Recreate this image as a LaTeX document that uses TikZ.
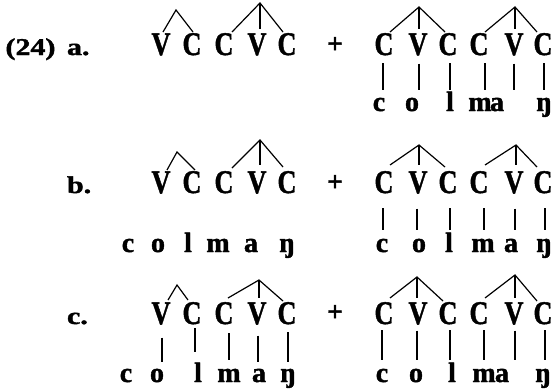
\documentclass[tikz,border=0pt]{standalone}
\usepackage{fontspec}
\setmainfont{Liberation Serif}[BoldFeatures={FakeBold=1.5}]
\usepackage{graphicx}
\usetikzlibrary{calc}
\newcommand\capf[1]{\scalebox{0.8}[1]{\fontsize{33}{33}\selectfont\bfseries #1}}
\newcommand\labf[1]{\scalebox{1.25}[1]{\fontsize{24}{24}\selectfont\bfseries #1}}
\tikzset{
  capnode/.style={inner sep=0pt, outer sep=0pt, anchor=base, text height=23pt},
  lownode/.style={inner sep=0pt, outer sep=0pt, anchor=base, text height=13pt, font=\fontsize{28}{28}\selectfont\bfseries},
  labnode/.style={inner sep=0pt, outer sep=0pt, anchor=base west},
  plusnode/.style={inner sep=0pt, outer sep=0pt, font=\fontsize{28}{28}\selectfont\bfseries},
  treeline/.style={line width=1.2pt, line cap=butt},
}
\begin{document}
\begin{tikzpicture}[x=1pt,y=-1pt]
\useasboundingbox (0,0) rectangle (552,391);
% labels
\node[labnode] (l24) at (5.5,55) {\labf{(24)}};
\node[labnode] (la) at (67,55) {\labf{a.}};
\node[labnode] (lb) at (67,193) {\labf{b.}};
\node[labnode] (lc) at (67,324) {\labf{c.}};
% capitals
\foreach \r/\y in {a/55,b/193,c/324}{
  \foreach \n/\x/\t in {V1/161/V,C1/192/C,C2/224/C,V2/257/V,C3/287/C,
                         C4/384/C,V3/418/V,C5/448/C,C6/479/C,V4/514/V,C7/543/C}{
    \node[capnode] (\r\n) at (\x,\y) {\capf{\t}};
  }
}
% plus signs
\node[plusnode] (pa) at (335,45) {+};
\node[plusnode] (pb) at (335,183) {+};
\node[plusnode] (pc) at (335,313) {+};
% lowercase rows
\foreach \n/\x/\t in {c/379/c,o/412/o,l/450/l,m/480/m,a/497/a,g/544/ŋ}
  \node[lownode] (ar\n) at (\x,111) {\t};
\foreach \n/\x/\t in {c/128/c,o/158/o,l/188/l,m/218/m,a/251/a,g/287/ŋ}
  \node[lownode] (bl\n) at (\x,252) {\t};
\foreach \n/\x/\t in {c/382/c,o/419/o,l/449/l,m/483/m,a/511/a,g/544/ŋ}
  \node[lownode] (br\n) at (\x,252) {\t};
\foreach \n/\x/\t in {c/126/c,o/157/o,l/198/l,m/229/m,a/259/a,g/288/ŋ}
  \node[lownode] (cl\n) at (\x,382) {\t};
\foreach \n/\x/\t in {c/382/c,o/416/o,l/452/l,m/484/m,a/502/a,g/543/ŋ}
  \node[lownode] (cr\n) at (\x,382) {\t};
% apexes
\coordinate (aA1) at (176,10);  \coordinate (aA2) at (260,3);
\coordinate (aA3) at (419,7);   \coordinate (aA4) at (515,7);
\coordinate (bA1) at (177,152); \coordinate (bA2) at (260,140);
\coordinate (bA3) at (419,145); \coordinate (bA4) at (516,145);
\coordinate (cA1) at (177,285); \coordinate (cA2) at (259,280);
\coordinate (cA3) at (417,277); \coordinate (cA4) at (515,275);
% trees row a
\draw[treeline] ([xshift=2pt]aV1.north) -- (aA1) -- ([xshift=1pt]aC1.north);
\draw[treeline] ([xshift=8pt]aC2.north) -- (aA2) -- ([xshift=-4pt]aC3.north);
\draw[treeline] (aA2) -- ([xshift=3pt,yshift=3pt]aV2.north);
\draw[treeline] ([xshift=6pt]aC4.north) -- (aA3) -- ([xshift=-3pt]aC5.north);
\draw[treeline] (aA3) -- ([xshift=1pt,yshift=3pt]aV3.north);
\draw[treeline] ([xshift=6pt]aC6.north) -- (aA4) -- ([xshift=-6pt]aC7.north);
\draw[treeline] (aA4) -- ([xshift=1pt,yshift=3pt]aV4.north);
% trees row b
\draw[treeline] ([xshift=6pt]bV1.north) -- (bA1) -- ([xshift=3pt]bC1.north);
\draw[treeline] ([xshift=8pt,yshift=2pt]bC2.north) -- (bA2) -- ([xshift=-4pt,yshift=3pt]bC3.north);
\draw[treeline] (bA2) -- ([xshift=3pt,yshift=5pt]bV2.north);
\draw[treeline] ([xshift=6pt,yshift=5pt]bC4.north) -- (bA3) -- ([xshift=-3pt,yshift=3pt]bC5.north);
\draw[treeline] (bA3) -- ([xshift=1pt,yshift=5pt]bV3.north);
\draw[treeline] ([xshift=6pt,yshift=5pt]bC6.north) -- (bA4) -- ([xshift=-6pt,yshift=3pt]bC7.north);
\draw[treeline] (bA4) -- ([xshift=2pt,yshift=5pt]bV4.north);
% trees row c
\draw[treeline] ([xshift=7pt,yshift=1pt]cV1.north) -- (cA1) -- ([xshift=-4pt,yshift=1pt]cC1.north);
\draw[treeline] ([xshift=4pt,yshift=3pt]cC2.north) -- (cA2) -- ([xshift=-4pt]cC3.north);
\draw[treeline] (cA2) -- ([xshift=2pt,yshift=3pt]cV2.north);
\draw[treeline] ([xshift=6pt,yshift=3pt]cC4.north) -- (cA3) -- ([xshift=-5pt,yshift=0pt]cC5.north);
\draw[treeline] (cA3) -- ([xshift=-1pt,yshift=3pt]cV3.north);
\draw[treeline] ([xshift=6pt,yshift=3pt]cC6.north) -- (cA4) -- ([xshift=-6pt]cC7.north);
\draw[treeline] (cA4) -- ([xshift=1pt,yshift=3pt]cV4.north);
% bars row a (right)
\foreach \u/\d/\s in {C4/c/-1,V3/o/1,C5/l/2,C6/m/6,V4/a/0,C7/g/1}
  \draw[treeline, shorten <=8pt, shorten >=8pt] ([xshift=\s pt]a\u.south) -- ([xshift=\s pt]a\u.south |- ar\d.north);
% bars row b (right)
\foreach \u/\d/\s in {C4/c/-1,V3/o/-1,C5/l/2,C6/m/5,V4/a/1,C7/g/2}
  \draw[treeline, shorten <=15pt, shorten >=9pt] ([xshift=\s pt]b\u.south) -- ([xshift=\s pt]b\u.south |- br\d.north);
% bars row c (left)
\foreach \u/\d/\s/\p/\q in {V1/o/1/13/7,C1/l/3/4/17,C2/m/5/9/9,V2/a/1/11/7,C3/g/1/8/7}
  \draw[treeline, shorten <=\p pt, shorten >=\q pt] ([xshift=\s pt]c\u.south) -- ([xshift=\s pt]c\u.south |- cl\d.north);
% bars row c (right)
\foreach \u/\d/\s in {C4/c/-2,V3/o/-1,C5/l/2,C6/m/5,V4/a/1,C7/g/2}
  \draw[treeline, shorten <=6pt, shorten >=9pt] ([xshift=\s pt]c\u.south) -- ([xshift=\s pt]c\u.south |- cr\d.north);
\end{tikzpicture}
\end{document}
